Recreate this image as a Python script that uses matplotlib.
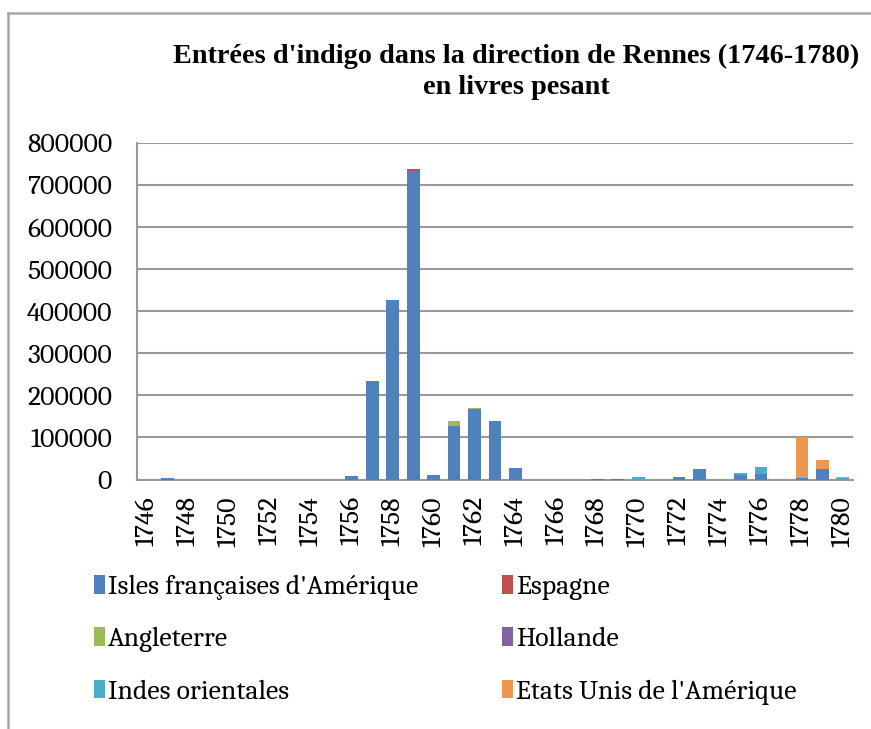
import matplotlib
matplotlib.use('Agg')
import matplotlib.pyplot as plt
from matplotlib.lines import Line2D
import numpy as np

years = list(range(1746, 1781))
series = ["Isles françaises d'Amérique", 'Espagne', 'Angleterre', 'Hollande',
          'Indes orientales', "Etats Unis de l'Amérique"]
colors = ['#4F81BD', '#C0504D', '#9BBB59', '#8064A2', '#4BACC6', '#EC9850']

# values, one entry per year 1746..1780
isles = [0, 3000, 0, 0, 0, 0, 0, 0, 0, 0,
         8000, 234500, 426000, 732000, 10000, 126000, 168000, 140000, 28000, 0,
         0, 0, 0, 0, 0, 0, 7000, 25000, 0, 11000,
         12000, 0, 3000, 25000, 0]
espagne = [0] * 13 + [5000] + [0] * 21
angleterre = [0] * 15 + [12000, 2500] + [0] * 18
hollande = [0] * 22 + [2000, 2000] + [0] * 11
indes = [0] * 24 + [7000, 0, 0, 0, 0, 4000, 17000, 0, 0, 0, 3000]
etats_unis = [0] * 32 + [97000, 22500, 2500]

data = [isles, espagne, angleterre, hollande, indes, etats_unis]

body_font = ['Caladea', 'Liberation Serif', 'DejaVu Serif']
plt.rcParams['font.family'] = body_font

fig = plt.figure(figsize=(8.71, 7.29), dpi=100)
ax = fig.add_axes([137 / 871, 1 - 479.5 / 729, (853 - 137) / 871, (479.5 - 142.7) / 729])

x = np.arange(len(years))
bottom = np.zeros(len(years))
for name, vals, c in zip(series, data, colors):
    vals = np.array(vals, dtype=float)
    ax.bar(x, vals, 0.62, bottom=bottom, color=c, label=name,
           linewidth=0, zorder=3)
    bottom += vals

ax.set_xlim(-0.5, len(years) - 0.5)
ax.set_ylim(0, 800000)
ax.set_yticks(range(0, 800001, 100000))
ax.set_yticklabels([str(v) for v in range(0, 800001, 100000)])
ax.set_xticks(x[::2])
ax.set_xticklabels([str(y) for y in years[::2]], rotation=90)
ax.tick_params(axis='y', length=0, pad=18, labelsize=20)
ax.tick_params(axis='x', length=0, pad=12, labelsize=20)
ax.grid(axis='y', color='#999999', linewidth=1.5, zorder=0)
for s in ['top', 'right']:
    ax.spines[s].set_visible(False)
for s in ['left', 'bottom']:
    ax.spines[s].set_color('#999999')
    ax.spines[s].set_linewidth(1.5)

fig.text(516 / 871, 1 - 72 / 729, "Entrées d'indigo dans la direction de Rennes (1746-1780)\nen livres pesant",
         ha='center', va='center', fontsize=20.3, fontweight='bold', linespacing=1.35,
         family=['Liberation Serif', 'DejaVu Serif'])

handles, labels = ax.get_legend_handles_labels()
order = [0, 2, 4, 1, 3, 5]
fig.legend([handles[i] for i in order], [labels[i] for i in order], ncol=2,
           loc='upper left', bbox_to_anchor=(94 / 871, 1 - 575 / 729), frameon=False,
           prop={'family': body_font, 'size': 20},
           handlelength=0.4, handleheight=0.65, handletextpad=0.12,
           columnspacing=3.0, labelspacing=0.97, borderaxespad=0, borderpad=0)

# outer chart border, cut off on the right and bottom
fig.add_artist(Line2D([8 / 871, 8 / 871], [0, 1 - 13 / 729], color='#a6a6a6', linewidth=1.8))
fig.add_artist(Line2D([8 / 871, 1], [1 - 13 / 729, 1 - 13 / 729], color='#a6a6a6', linewidth=1.8))

fig.savefig('out.png', dpi=100)
